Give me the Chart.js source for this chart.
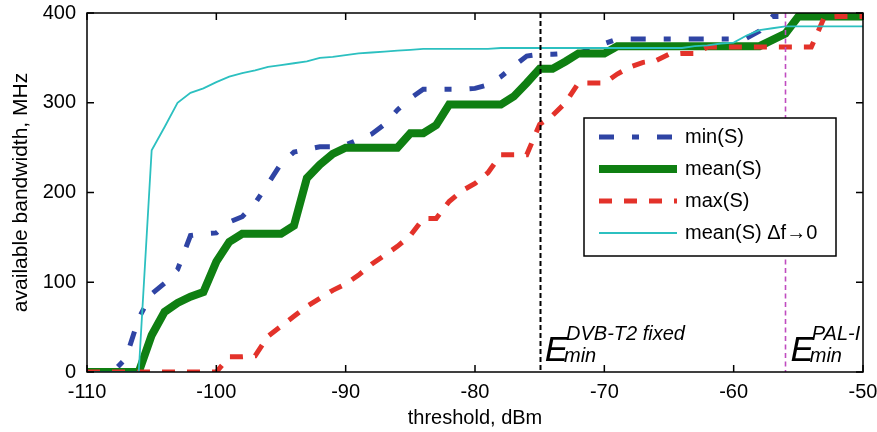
<!DOCTYPE html>
<html><head><meta charset="utf-8">
<script src="https://cdn.jsdelivr.net/npm/chart.js@4/dist/chart.umd.min.js"></script>
<style>html,body{margin:0;padding:0;background:#fff}</style>
</head><body>
<canvas id="c" width="877" height="432" style="width:877px;height:432px;display:block"></canvas>
<script>
// ---- data ----
const thresholds = [-110,-109,-108,-107,-106,-105,-104,-103,-102,-101,
  -100,-99,-98,-97,-96,-95,-94,-93,-92,-91,
  -90,-89,-88,-87,-86,-85,-84,-83,-82,-81,
  -80,-79,-78,-77,-76,-75,-74,-73,-72,-71,
  -70,-69,-68,-67,-66,-65,-64,-63,-62,-61,
  -60,-59,-58,-57,-56,-55,-54,-53,-52,-51,-50];

const minS = [0,0,0,15,60,87,99,114,152,154,
  155,167,173,188,210,232,245,248,251,251,
  253,259,265,276,292,305,315,315,315,315,
  316,320,329,341,352,354,354,355,355,360,
  366,371,371,371,371,371,371,371,371,371,
  371,372,380,396,396,396,396,396,396,396,396];

const meanS = [0,0,0,0,0,41,67,77,84,89,
  123,145,154,154,154,154,163,216,231,243,
  250,250,250,250,250,266,266,275,298,298,
  298,298,298,307,322,338,338,346,355,355,
  355,363,363,363,363,363,363,363,363,363,
  363,363,363,370,377,396,396,396,396,396,396];

const maxS = [0,0,0,0,0,0,0,0,0,0,
  0,17,17,18,40,51,62,73,82,91,
  98,108,120,130,140,152,171,171,190,202,
  210,222,242,242,242,276,286,300,322,322,
  322,332,340,345,347,354,355,355,362,362,
  362,362,362,362,362,362,362,395,396,396,396];

const meanS0 = [0,0,0,0,0,247,273,300,311,316,
  323,329,333,336,340,342,344,346,350,351,
  353,355,356,357,358,359,360,360,360,360,
  360,360,361,361,361,361,361,361,361,361,
  361,361,361,361,361,361,361,363,364,366,
  367,375,381,383,385,385,385,385,385,385,385];

const seriesLabels = ['min(S)','mean(S)','max(S)','mean(S) \u0394f\u21920'];
const xTicks = [-110,-100,-90,-80,-70,-60,-50];
const yTicks = [0,100,200,300,400];
const markerX = [-75,-56];
const markerSup = ['DVB-T2 fixed','PAL-I'];

// ---- chart ----
const pts = arr => thresholds.map((x,i)=>({x:x,y:arr[i]}));
const FONT = '"Liberation Sans", Arial, Helvetica, sans-serif';

const frame = {
  id:'frame',
  afterDatasetsDraw(chart){
    const ctx = chart.ctx, a = chart.chartArea, xs = chart.scales.x, ys = chart.scales.y;
    ctx.save();
    // marker lines
    const mStyles = [{c:'#000000',w:2,d:[5,3]},{c:'#c04cc0',w:1.6,d:[5,3.5]}];
    markerX.forEach((v,i)=>{
      const px = Math.round(xs.getPixelForValue(v))+0.5;
      ctx.strokeStyle=mStyles[i].c; ctx.lineWidth=mStyles[i].w; ctx.setLineDash(mStyles[i].d);
      ctx.beginPath(); ctx.moveTo(px,a.top); ctx.lineTo(px,a.bottom); ctx.stroke();
    });
    ctx.setLineDash([]);
    // annotation text E_min^{...}
    ctx.fillStyle='#000'; ctx.textBaseline='alphabetic'; ctx.textAlign='left';
    markerX.forEach((v,i)=>{
      const px = xs.getPixelForValue(v);
      const ex = px+5, by = a.bottom-11;
      ctx.font='italic 35px '+FONT;
      ctx.fillText('E', ex, by);
      const w = ctx.measureText('E').width;
      ctx.font='italic 20px '+FONT;
      ctx.fillText(markerSup[i], ex+w-2, by-21);
      ctx.fillText('min', ex+w-4, by+1);
    });
    // frame box
    ctx.strokeStyle='#000'; ctx.lineWidth=1.5;
    ctx.strokeRect(a.left, a.top, a.right-a.left, a.bottom-a.top);
    const tl = 7;
    ctx.beginPath();
    xTicks.forEach(v=>{
      const px = xs.getPixelForValue(v);
      ctx.moveTo(px,a.bottom); ctx.lineTo(px,a.bottom-tl);
      ctx.moveTo(px,a.top); ctx.lineTo(px,a.top+tl);
    });
    yTicks.forEach(v=>{
      const py = ys.getPixelForValue(v);
      ctx.moveTo(a.left,py); ctx.lineTo(a.left+tl,py);
      ctx.moveTo(a.right,py); ctx.lineTo(a.right-tl,py);
    });
    ctx.stroke();
    // legend
    const lx = a.right-279, ly = a.top+105, lw = 252, lh = 138;
    ctx.fillStyle='#fff'; ctx.fillRect(lx,ly,lw,lh);
    ctx.strokeStyle='#000'; ctx.lineWidth=1.5; ctx.strokeRect(lx,ly,lw,lh);
    [0,1,2,3].forEach((di,k)=>{
      const ds = chart.data.datasets[di];
      const yy = ly+19+k*32;
      ctx.strokeStyle=ds.borderColor; ctx.lineWidth=ds.borderWidth; ctx.setLineDash(ds.borderDash||[]);
      ctx.lineCap='butt';
      ctx.beginPath(); ctx.moveTo(lx+15,yy); ctx.lineTo(lx+93,yy); ctx.stroke();
      ctx.setLineDash([]);
      ctx.fillStyle='#000'; ctx.font='20px '+FONT; ctx.textBaseline='middle';
      ctx.fillText(ds.label, lx+101, yy);
    });
    ctx.restore();
  }
};

new Chart(document.getElementById('c'), {
  type:'line',
  data:{datasets:[
    {label:seriesLabels[0], data:pts(minS), borderColor:'#2f44a4', borderWidth:5, borderDash:[15,18,7,18], order:4},
    {label:seriesLabels[1], data:pts(meanS), borderColor:'#0f7f12', borderWidth:8, order:3},
    {label:seriesLabels[2], data:pts(maxS), borderColor:'#e3322a', borderWidth:5, borderDash:[13,12], order:2},
    {label:seriesLabels[3], data:pts(meanS0), borderColor:'#2cc0c0', borderWidth:1.8, order:1}
  ]},
  options:{
    responsive:false, animation:false, devicePixelRatio:1,
    layout:{padding:{top:13,right:14,left:0,bottom:0}},
    elements:{point:{radius:0}, line:{tension:0, borderCapStyle:'butt', borderJoinStyle:'miter'}},
    plugins:{legend:{display:false}, tooltip:{enabled:false}},
    scales:{
      x:{type:'linear', min:-110, max:-50,
        afterBuildTicks(s){ s.ticks = xTicks.map(v=>({value:v})); },
        afterFit(s){ s.height = 60; s.paddingLeft = 0; s.paddingRight = 0; },
        grid:{display:false, drawTicks:false}, border:{display:false},
        ticks:{color:'#000', font:{family:FONT,size:20}, padding:8, maxRotation:0},
        title:{display:true, text:'threshold, dBm', color:'#000', font:{family:FONT,size:20}, padding:{top:0,bottom:2}}
      },
      y:{type:'linear', min:0, max:400,
        afterBuildTicks(s){ s.ticks = yTicks.map(v=>({value:v})); },
        afterFit(s){ s.width = 87; s.paddingTop = 0; s.paddingBottom = 0; },
        grid:{display:false, drawTicks:false}, border:{display:false},
        ticks:{color:'#000', font:{family:FONT,size:20}, padding:11},
        title:{display:true, text:'available bandwidth, MHz', color:'#000', font:{family:FONT,size:21}, padding:{top:9,bottom:0}}
      }
    }
  },
  plugins:[frame]
});
</script>
</body></html>
